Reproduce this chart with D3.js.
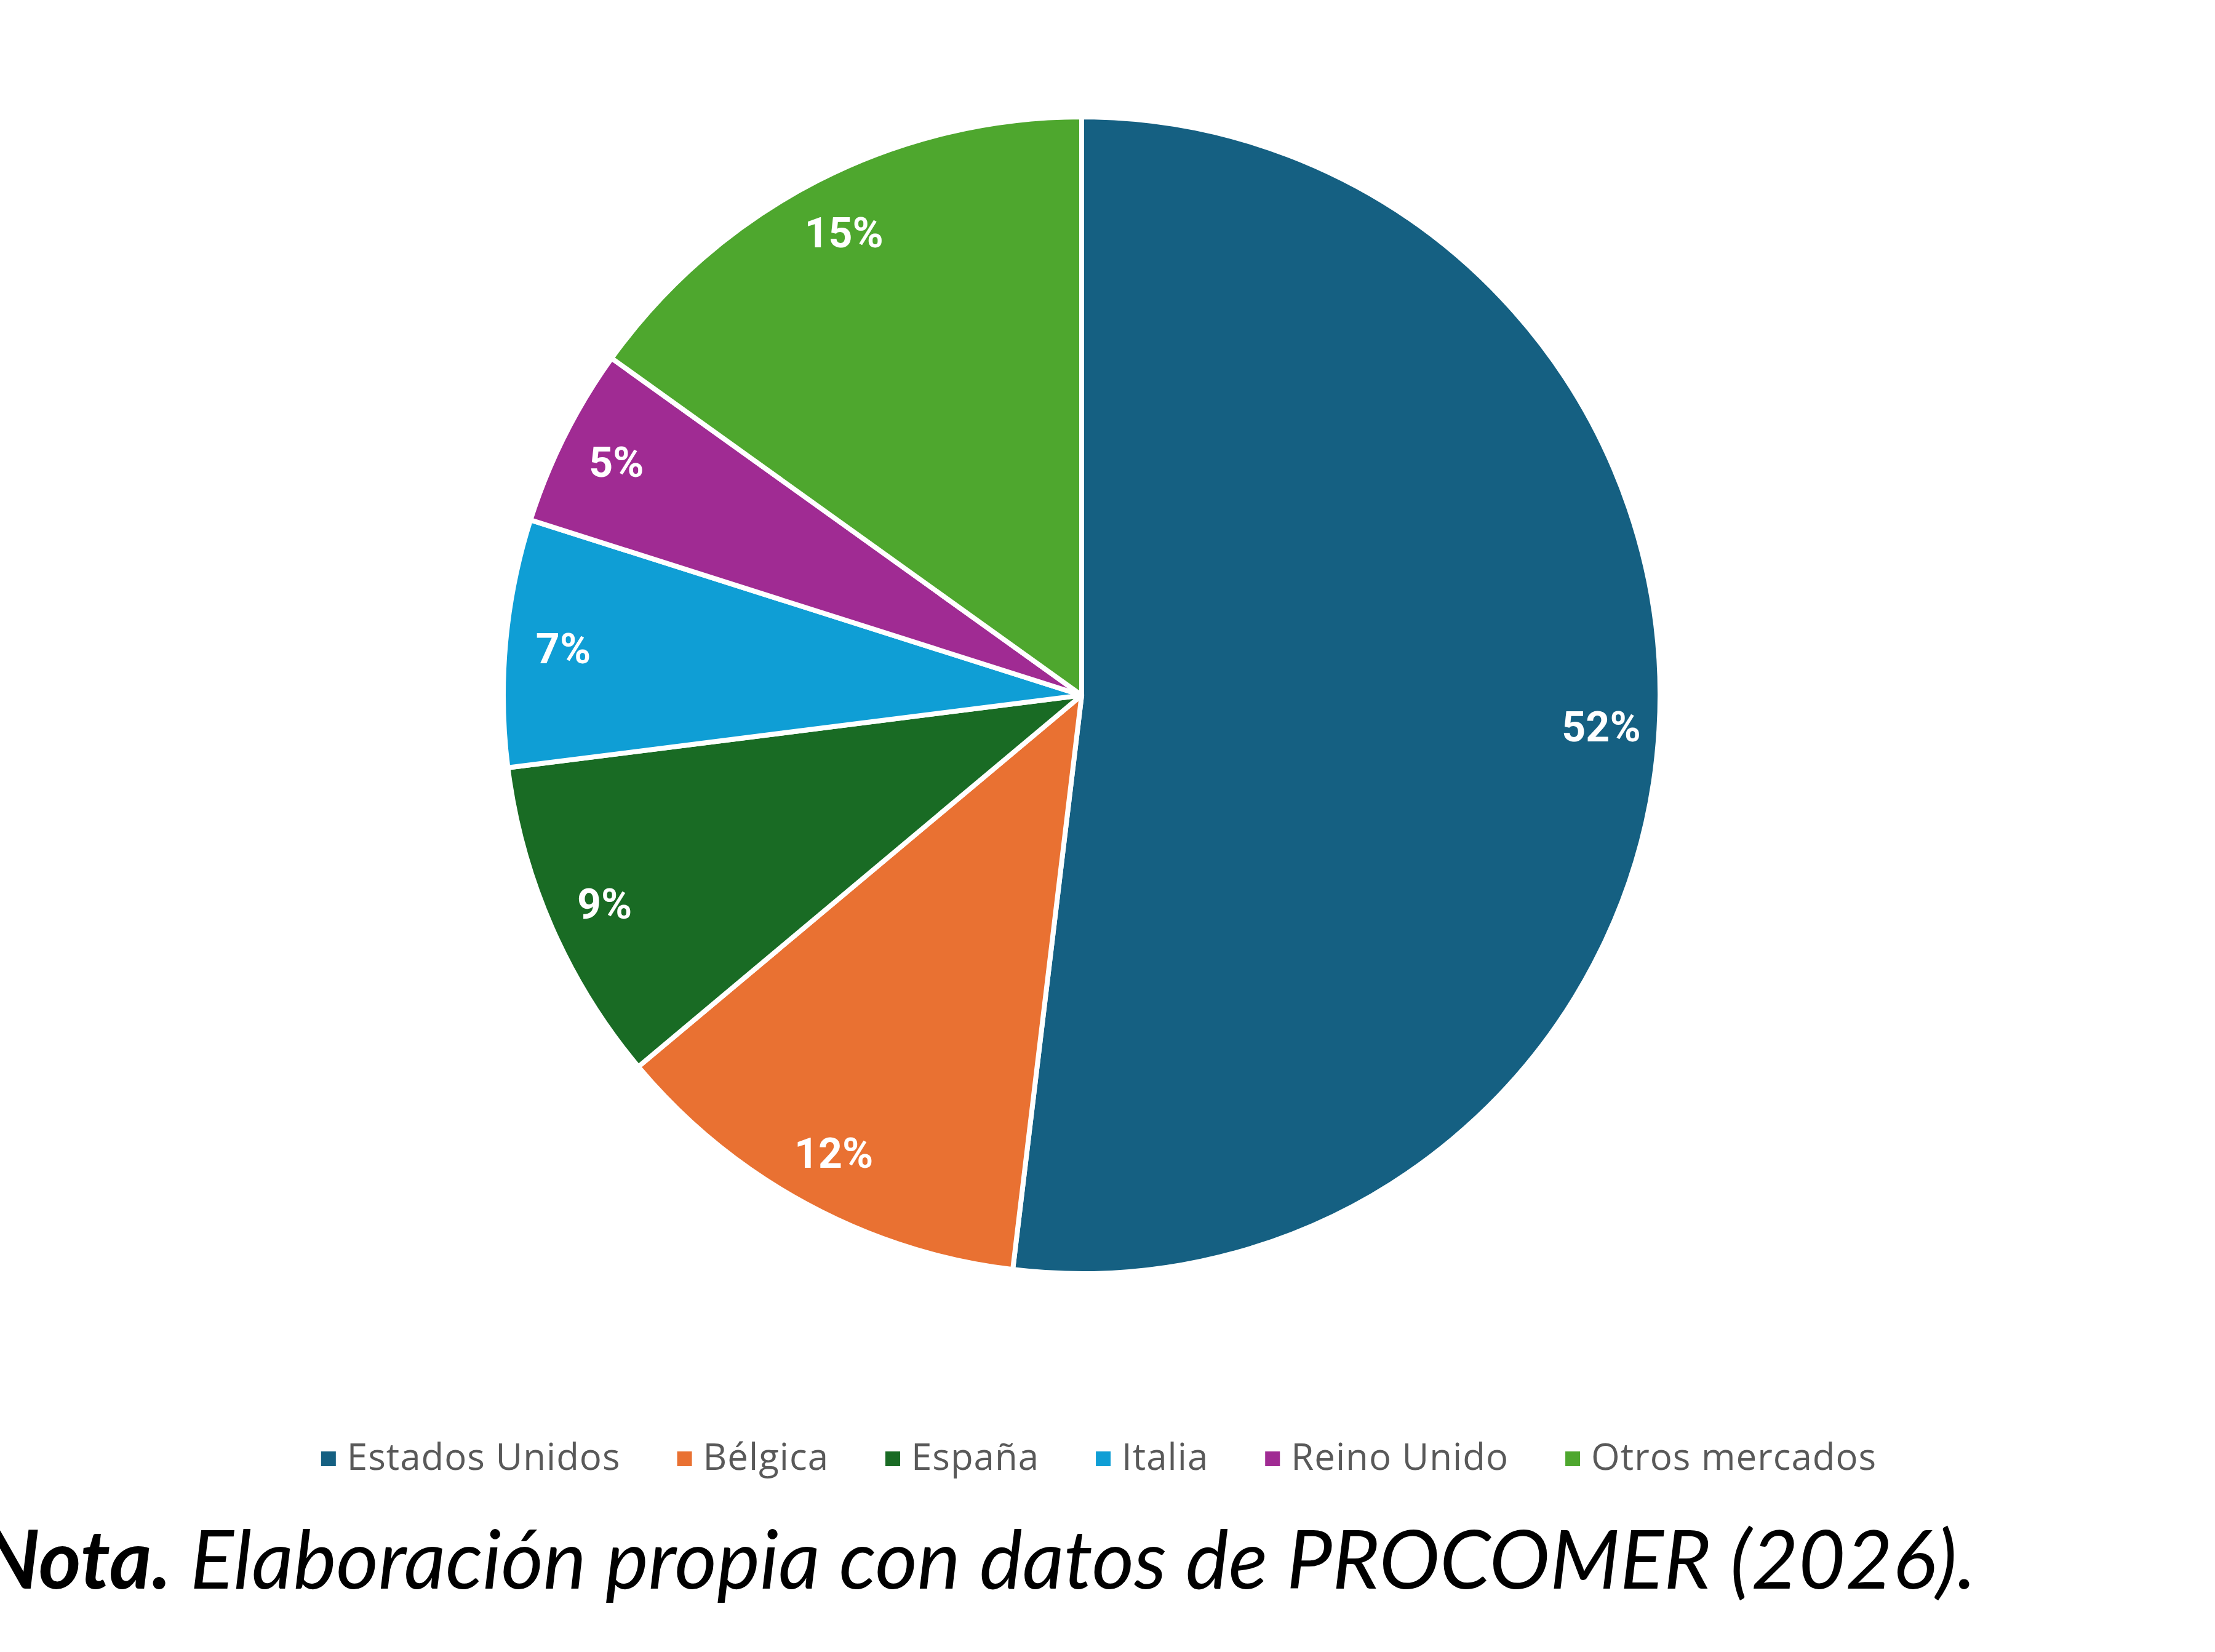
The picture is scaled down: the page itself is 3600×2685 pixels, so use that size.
<!DOCTYPE html>
<html lang="es">
<head>
<meta charset="UTF-8">
<title>Exportaciones por mercado</title>
<script src="https://d3js.org/d3.v7.min.js"></script>
<style>
  body, html { margin: 0; background: #ffffff; }
  svg { display: block; }
  .slice-label { font-family: 'Roboto', sans-serif; font-weight: 700; fill: #ffffff; text-anchor: middle; }
  .legend-text { font-family: 'Open Sans', sans-serif; fill: #595959; letter-spacing: 1px; }
  .nota { font-family: 'Lato', sans-serif; font-style: italic; fill: #000000; }
</style>
</head>
<body>
<svg id="chart"></svg>
<script>
  const markets = ["Estados Unidos", "Bélgica", "España", "Italia", "Reino Unido", "Otros mercados"];
  const shares = [51.9, 12.0, 9.1, 6.9, 5.0, 15.1];
  const colors = ["#156082", "#e97132", "#196b24", "#0f9ed5", "#a02b93", "#4ea72e"];

  const width = 3600, height = 2685;
  const cx = 1758, cy = 1130, radius = 940;

  const svg = d3.select("#chart").attr("width", width).attr("height", height);

  const data = markets.map((m, i) => ({ market: m, value: shares[i], color: colors[i] }));

  const pie = d3.pie().value(d => d.value).sort(null);
  const arc = d3.arc().innerRadius(0).outerRadius(radius);
  const labelArc = d3.arc().innerRadius(radius * 0.9).outerRadius(radius * 0.9);

  const g = svg.append("g").attr("transform", `translate(${cx},${cy})`);
  const arcs = pie(data);

  g.selectAll("path.slice")
    .data(arcs)
    .enter().append("path")
    .attr("class", "slice")
    .attr("d", arc)
    .attr("fill", d => d.data.color)
    .attr("stroke", "#ffffff")
    .attr("stroke-width", 8)
    .attr("stroke-linejoin", "round");

  g.selectAll("text.slice-label")
    .data(arcs)
    .enter().append("text")
    .attr("class", "slice-label")
    .attr("transform", d => `translate(${labelArc.centroid(d)})`)
    .attr("dy", "0.36em")
    .style("font-size", "68px")
    .text(d => Math.round(d.data.value) + "%");

  // legend, laid out from measured text widths
  const legendY = 2367, sq = 24, sqGap = 18, itemGap = 92;
  const legend = svg.append("g");
  const items = legend.selectAll("g.item")
    .data(data)
    .enter().append("g")
    .attr("class", "item");
  items.append("rect")
    .attr("width", sq).attr("height", sq)
    .attr("y", -sq / 2 + 4)
    .attr("fill", d => d.color);
  items.append("text")
    .attr("class", "legend-text")
    .attr("x", sq + sqGap)
    .attr("dy", "0.36em")
    .style("font-size", "60px")
    .text(d => d.market);

  let offset = 0;
  const positions = [];
  items.each(function () {
    positions.push(offset);
    const w = d3.select(this).select("text").node().getComputedTextLength();
    offset += sq + sqGap + w + itemGap;
  });
  const total = offset - itemGap;
  const startX = 1786 - total / 2;
  items.attr("transform", (d, i) => `translate(${startX + positions[i]},${legendY})`);

  // note below the chart
  const nota = svg.append("text")
    .attr("class", "nota")
    .attr("x", -30)
    .attr("y", 2582)
    .style("font-size", "126px");
  nota.append("tspan").style("font-weight", "700").text("Nota.");
  nota.append("tspan").text(" Elaboración propia con datos de PROCOMER (2026).");

  const targetW = 3242;
  const w0 = nota.node().getComputedTextLength();
  if (w0 > 0) nota.style("font-size", (126 * targetW / w0).toFixed(1) + "px");
</script>
</body>
</html>
